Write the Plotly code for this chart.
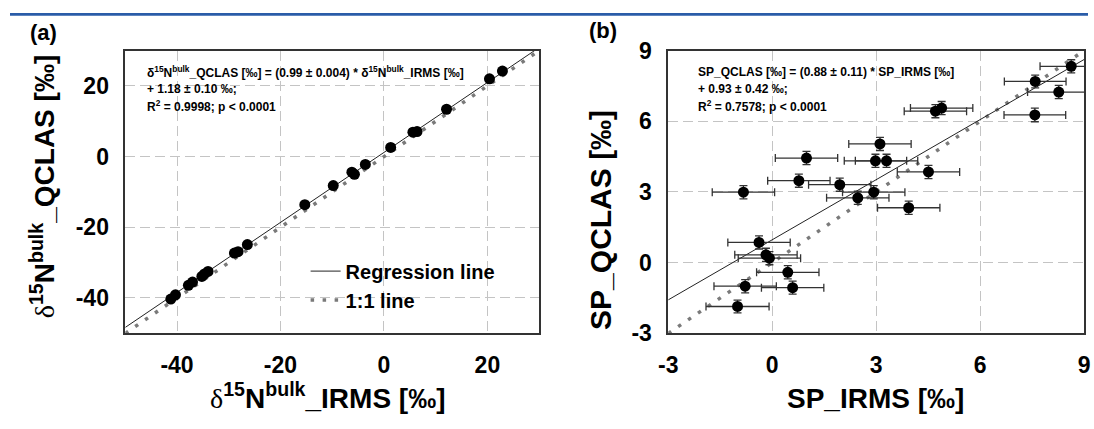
import plotly.graph_objects as go

W, H = 1094, 429

# ---------------- Panel (a) data ----------------
a_irms = [20.4, 22.9, 12.1, 5.6, 6.4, 1.3, -3.6, -6.2, -5.7, -9.8, -15.3,
          -26.4, -28.9, -28.2, -34.0, -34.7, -35.2, -37.0, -37.8, -40.3, -41.2]
a_qclas = [22.0, 24.2, 13.4, 6.9, 7.1, 2.6, -2.2, -4.4, -5.0, -8.2, -13.6,
           -24.9, -27.3, -26.9, -32.5, -33.2, -33.9, -35.5, -36.4, -39.1, -40.3]
a_slope, a_intercept = 0.99, 1.18
a_range = [-50, 30]
a_ticks = [-40, -20, 0, 20]
a_ticklabels = ["-40", "-20", "0", "20"]

# ---------------- Panel (b) data ----------------
b_irms = [8.63, 7.59, 8.27, 7.58, 4.71, 4.89, 3.11, 0.99, 2.98, 3.30, 4.51, 0.77,
          1.95, -0.83, 2.93, 2.47, 3.94, -0.38, -0.18, -0.08, 0.45, -0.78, 0.59, -1.00]
b_qclas = [8.33, 7.69, 7.24, 6.27, 6.43, 6.56, 5.04, 4.44, 4.32, 4.32, 3.85, 3.48,
           3.31, 2.99, 2.99, 2.75, 2.33, 0.86, 0.33, 0.19, -0.41, -1.00, -1.06, -1.86]
b_irms_err = [0.90, 0.89, 0.90, 0.89, 0.90, 0.90, 0.90, 0.90, 0.90, 0.90, 0.90, 0.90,
              0.90, 0.90, 0.90, 0.90, 0.90, 0.90, 0.90, 0.90, 0.90, 0.90, 0.90, 0.91]
b_qclas_err = [0.28, 0.27, 0.28, 0.29, 0.28, 0.28, 0.28, 0.28, 0.28, 0.28, 0.28, 0.28,
               0.28, 0.28, 0.28, 0.28, 0.28, 0.28, 0.28, 0.28, 0.28, 0.28, 0.28, 0.27]
b_slope, b_intercept = 0.85, 0.97
b_range = [-3, 9]
b_ticks = [-3, 0, 3, 6, 9]
b_ticklabels = ["-3", "0", "3", "6", "9"]

eq_a = ["δ<sup>15</sup>N<sup>bulk</sup>_QCLAS [‰] = (0.99 ± 0.004) * δ<sup>15</sup>N<sup>bulk</sup>_IRMS [‰]",
        "+ 1.18 ± 0.10 ‰;",
        "R<sup>2</sup> = 0.9998; p &lt; 0.0001"]
eq_b = ["SP_QCLAS [‰] = (0.88 ± 0.11) * SP_IRMS [‰]",
        "+ 0.93 ± 0.42 ‰;",
        "R<sup>2</sup> = 0.7578; p &lt; 0.0001"]

FONT = "Liberation Sans, Arial, sans-serif"
DELTA = "<span style='font-family:Liberation Serif, Times New Roman, serif;font-weight:normal'>δ</span>"

fig = go.Figure()

# ---- panel (a) traces ----
fig.add_trace(go.Scatter(
    x=a_range, y=[a_slope * v + a_intercept for v in a_range],
    mode="lines", line=dict(color="#222222", width=1),
    name="Regression line", xaxis="x", yaxis="y", showlegend=True))
fig.add_trace(go.Scatter(
    x=a_range, y=a_range, mode="lines",
    line=dict(color="#7a7a7a", width=3.5, dash="3.5px,8.5px"),
    name="1:1 line", xaxis="x", yaxis="y", showlegend=True))
fig.add_trace(go.Scatter(
    x=a_irms, y=a_qclas, mode="markers",
    marker=dict(color="black", size=11, line=dict(width=0)),
    xaxis="x", yaxis="y", showlegend=False))

# ---- panel (b) traces ----
fig.add_trace(go.Scatter(
    x=b_range, y=b_range, mode="lines",
    line=dict(color="#7a7a7a", width=3.5, dash="3.5px,8.5px"),
    xaxis="x2", yaxis="y2", showlegend=False))
fig.add_trace(go.Scatter(
    x=b_range, y=[b_slope * v + b_intercept for v in b_range],
    mode="lines", line=dict(color="#222222", width=1),
    xaxis="x2", yaxis="y2", showlegend=False))
fig.add_trace(go.Scatter(
    x=b_irms, y=b_qclas, mode="markers",
    marker=dict(color="black", size=11, line=dict(width=0)),
    error_x=dict(type="data", array=b_irms_err, color="#333333", thickness=1.3, width=4),
    error_y=dict(type="data", array=b_qclas_err, color="#333333", thickness=1.3, width=4),
    xaxis="x2", yaxis="y2", showlegend=False))

x0a, x1a = 117 / W, 537 / W
x0b, x1b = 668 / W, 1090 / W
y0, y1 = (H - 341) / H, (H - 40) / H

axis_common = dict(
    showline=True, mirror=True, linecolor="#333333", linewidth=1.5,
    showgrid=True, gridcolor="#c4c4c4", gridwidth=1, griddash="10px,5px",
    zeroline=False, ticks="", ticklabelstandoff=10, ticklabeloverflow="allow",
    tickfont=dict(family=FONT, size=23, color="black", weight="bold"),
)

fig.update_layout(
    width=W, height=H,
    margin=dict(l=0, r=0, t=0, b=0),
    paper_bgcolor="white", plot_bgcolor="white",
    font=dict(family=FONT, color="black"),
    xaxis=dict(domain=[x0a, x1a], range=a_range, tickvals=a_ticks, ticktext=a_ticklabels,
               anchor="y", **axis_common),
    yaxis=dict(domain=[y0, y1], range=a_range, tickvals=a_ticks, ticktext=a_ticklabels,
               anchor="x", **axis_common),
    xaxis2=dict(domain=[x0b, x1b], range=b_range, tickvals=b_ticks, ticktext=b_ticklabels,
                anchor="y2", **axis_common),
    yaxis2=dict(domain=[y0, y1], range=b_range, tickvals=b_ticks, ticktext=b_ticklabels,
                anchor="x2", **axis_common),
    legend=dict(x=300 / W, y=1 - 254 / H, xanchor="left", yanchor="top",
                bgcolor="rgba(0,0,0,0)", borderwidth=0, tracegroupgap=0,
                font=dict(family=FONT, size=20, color="black", weight="bold")),
    showlegend=True,
)

ann = []
# equations
for i, t in enumerate(eq_a):
    ann.append(dict(text=t, x=137 / W, y=1 - (63 + 18 * i) / H, xref="paper", yref="paper",
                    xanchor="left", yanchor="middle", showarrow=False,
                    font=dict(family=FONT, size=12, color="black", weight="bold")))
for i, t in enumerate(eq_b):
    ann.append(dict(text=t, x=696 / W, y=1 - (63 + 18 * i) / H, xref="paper", yref="paper",
                    xanchor="left", yanchor="middle", showarrow=False,
                    font=dict(family=FONT, size=12, color="black", weight="bold")))
# axis titles
title_font = dict(family=FONT, size=28, color="black", weight="bold")
ann.append(dict(text=DELTA + "<sup>15</sup>N<sup>bulk</sup>_IRMS [‰]", x=323 / W, y=1 - 408 / H,
                xref="paper", yref="paper", xanchor="center", yanchor="middle",
                showarrow=False, font=title_font))
ann.append(dict(text=DELTA + "<sup>15</sup>N<sup>bulk</sup>_QCLAS [‰]", x=33 / W, y=1 - 185 / H,
                xref="paper", yref="paper", xanchor="center", yanchor="middle",
                textangle=-90, showarrow=False, font=title_font))
ann.append(dict(text="SP_IRMS [‰]", x=878 / W, y=1 - 410 / H,
                xref="paper", yref="paper", xanchor="center", yanchor="middle",
                showarrow=False, font=title_font))
ann.append(dict(text="SP_QCLAS [‰]", x=599 / W, y=1 - 220 / H,
                xref="paper", yref="paper", xanchor="center", yanchor="middle",
                textangle=-90, showarrow=False,
                font=dict(family=FONT, size=30, color="black", weight="bold")))
# panel labels
ann.append(dict(text="(a)", x=34 / W, y=1 - 21 / H, xref="paper", yref="paper",
                xanchor="center", yanchor="middle", showarrow=False,
                font=dict(family=FONT, size=22, color="black", weight="bold")))
ann.append(dict(text="(b)", x=602 / W, y=1 - 19 / H, xref="paper", yref="paper",
                xanchor="center", yanchor="middle", showarrow=False,
                font=dict(family=FONT, size=22, color="black", weight="bold")))
fig.update_layout(annotations=ann)

# journal page top band
fig.add_shape(type="rect", xref="paper", yref="paper", x0=0, x1=1, y0=1 - 3 / H, y1=1,
              fillcolor="#2a5ca8", line=dict(width=0), layer="above")

fig.write_html("out.html", config={"displayModeBar": False},
               post_script="document.body.style.margin='0px';")
